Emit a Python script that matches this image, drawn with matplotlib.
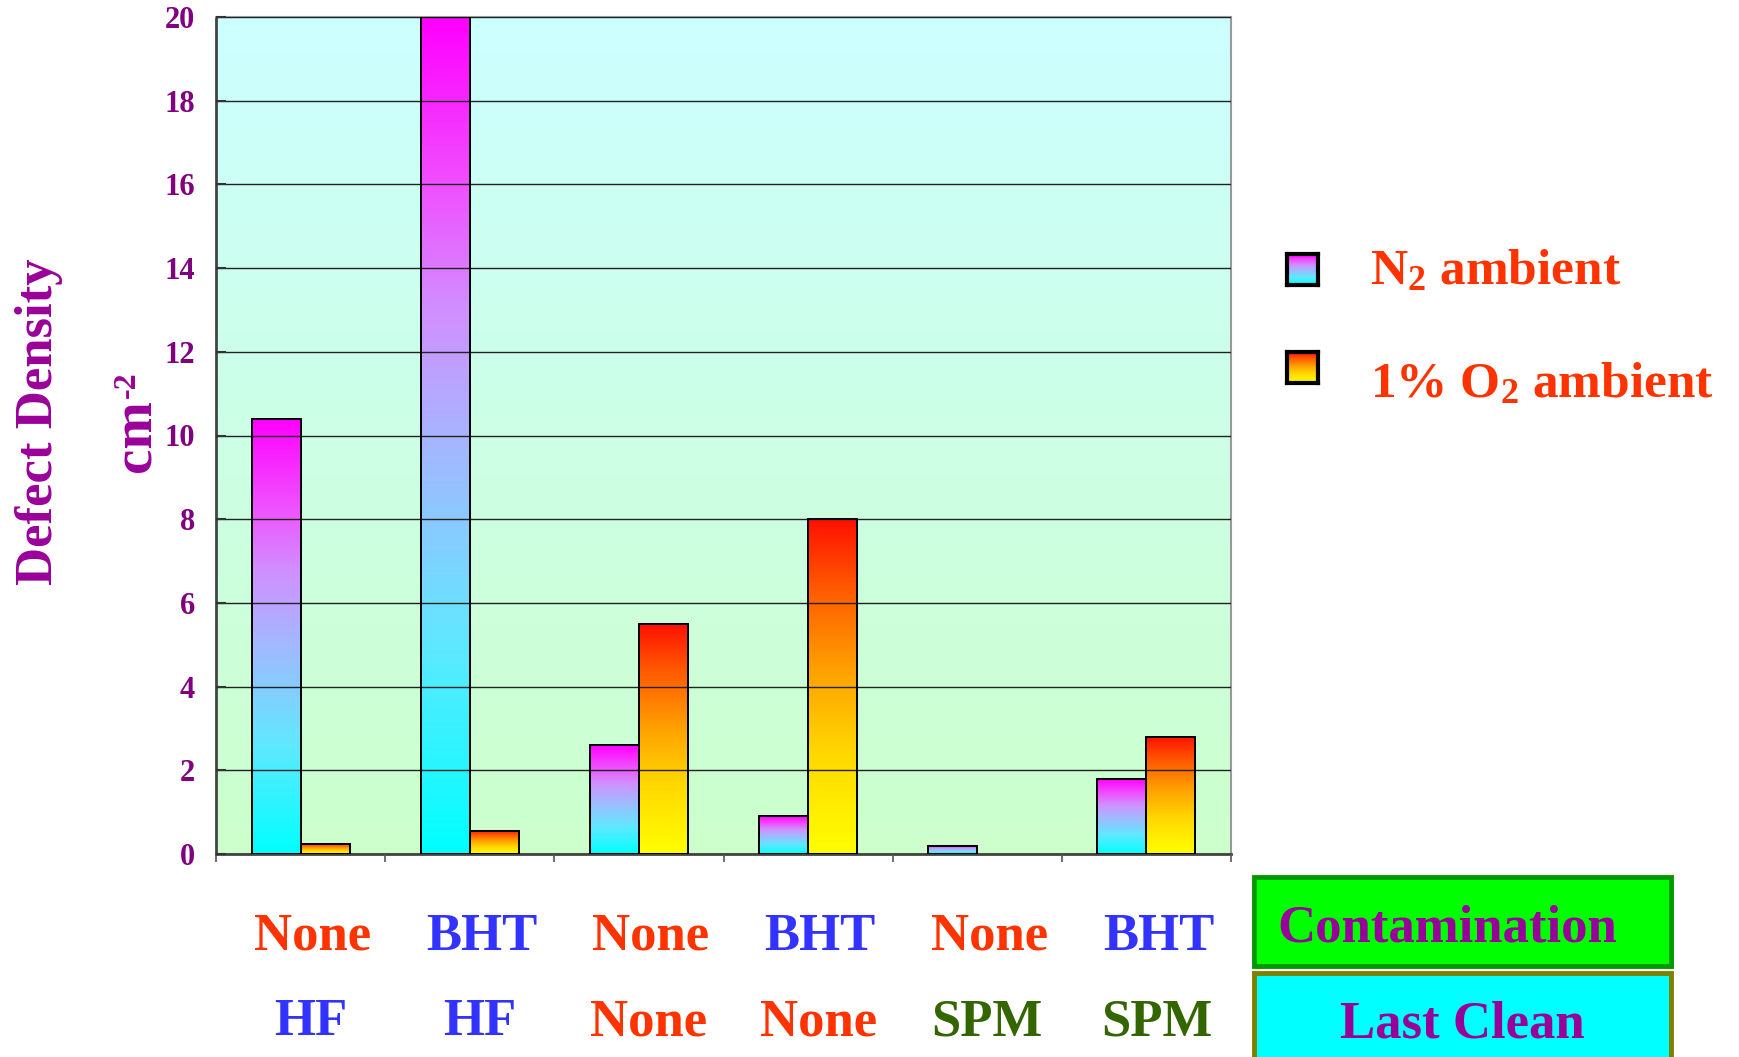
import numpy as np
import matplotlib
matplotlib.use("Agg")
import matplotlib.pyplot as plt
from matplotlib.colors import LinearSegmentedColormap
from matplotlib.patches import Rectangle

plt.rcParams['font.family'] = ['Liberation Serif', 'DejaVu Serif']
plt.rcParams['font.weight'] = 'bold'
plt.rcParams['mathtext.fontset'] = 'custom'
plt.rcParams['mathtext.rm'] = 'Liberation Serif:bold'
plt.rcParams['mathtext.it'] = 'Liberation Serif:bold'
plt.rcParams['mathtext.bf'] = 'Liberation Serif:bold'

# Data
contamination = ['None', 'BHT', 'None', 'BHT', 'None', 'BHT']
last_clean = ['HF', 'HF', 'None', 'None', 'SPM', 'SPM']
n2_ambient = [10.4, 20.0, 2.6, 0.9, 0.2, 1.8]
o2_ambient = [0.25, 0.55, 5.5, 8.0, 0.0, 2.8]
y_ticks = [0, 2, 4, 6, 8, 10, 12, 14, 16, 18, 20]

word_colors = {'None': '#FF3300', 'BHT': '#3333FF', 'HF': '#3333FF', 'SPM': '#336600'}
purple = '#990099'
tick_purple = '#800080'

n2_cmap = LinearSegmentedColormap.from_list(
    'n2', [(0, '#00FFFF'), (0.25, '#60E8FF'), (0.5, '#A8B4FF'),
           (0.65, '#D090FF'), (0.8, '#F050FF'), (1, '#FF00FF')])
o2_cmap = LinearSegmentedColormap.from_list(
    'o2', [(0, '#FFFF00'), (0.3, '#FFD800'), (0.55, '#FFA000'),
           (0.8, '#FF5800'), (1, '#FF1000')])
bg_cmap = LinearSegmentedColormap.from_list('bg', ['#CCFFCC', '#CCFFFF'])

W, H = 1740, 1057
fig = plt.figure(figsize=(W / 100, H / 100), dpi=100)
fig.patch.set_facecolor('white')

ax = fig.add_axes([216 / W, 1 - 854 / H, (1231 - 216) / W, (854 - 17) / H])

# Axes background: light green at the bottom to light cyan at the top
grad = np.linspace(0, 1, 256).reshape(-1, 1)
ax.imshow(grad, extent=[0, 1, 0, 1], transform=ax.transAxes, origin='lower',
          cmap=bg_cmap, aspect='auto', zorder=0, interpolation='bilinear')

x = np.arange(len(contamination))
width = 0.29
bars_n2 = ax.bar(x - width / 2, n2_ambient, width, facecolor='none',
                 edgecolor='black', linewidth=1.4, zorder=3)
bars_o2 = ax.bar(x + width / 2, o2_ambient, width, facecolor='none',
                 edgecolor='black', linewidth=1.4, zorder=3)

# Vertical gradient inside each bar
for bars, cmap in ((bars_n2, n2_cmap), (bars_o2, o2_cmap)):
    for rect in bars:
        h = rect.get_height()
        if h <= 0:
            rect.set_visible(False)
            continue
        x0 = rect.get_x()
        ax.imshow(grad, extent=[x0, x0 + rect.get_width(), 0, h], origin='lower',
                  cmap=cmap, aspect='auto', zorder=2, interpolation='bilinear')

ax.set_xlim(-0.5, len(contamination) - 0.5)
ax.set_ylim(0, 20)
ax.set_yticks(y_ticks)
ax.set_yticklabels([str(v) for v in y_ticks], color=tick_purple, fontsize=22,
                   fontweight='bold')
ax.yaxis.grid(True, color='#222222', linewidth=1.0, zorder=1)
ax.set_axisbelow(False)
for gl in ax.get_ygridlines():
    gl.set_zorder(1)

ax.tick_params(axis='y', direction='in', length=7, width=1.5, color='#333333', pad=15)
ax.set_xticks(np.arange(len(contamination) + 1) - 0.5)
ax.set_xticklabels([])
ax.tick_params(axis='x', direction='out', length=6, width=1.2, color='#555555')

for side in ('left', 'bottom'):
    ax.spines[side].set_color('#444444')
    ax.spines[side].set_linewidth(2)
for side in ('top', 'right'):
    ax.spines[side].set_color('#999999')
    ax.spines[side].set_linewidth(1.5)

# Axis titles
fig.text(39 / W, 1 - 422 / H, 'Defect Density', rotation=90, ha='center', va='center',
         color=purple, fontsize=38, fontweight='bold')
fig.text(137 / W, 1 - 436 / H, 'cm', rotation=90, ha='center', va='center',
         color=purple, fontsize=41, fontweight='bold')
fig.text(127 / W, 1 - 385 / H, '-2', rotation=90, ha='center', va='center',
         color=purple, fontsize=23, fontweight='bold')

# Category labels below the axis
for i, (c, l) in enumerate(zip(contamination, last_clean)):
    xd = ax.transData.transform((i, 0))[0] / W
    fig.text(xd + 12 / W, 1 - 950 / H, c, ha='center', va='baseline',
             color=word_colors[c], fontsize=38, fontweight='bold')
    fig.text(xd + 10 / W, 1 - 1035 / H, l, ha='center', va='baseline',
             color=word_colors[l], fontsize=38, fontweight='bold')

# Row headers
box1 = Rectangle((1254 / W, 1 - 966 / H), (1671 - 1254) / W, (966 - 877) / H,
                 transform=fig.transFigure, facecolor='#00FF00', edgecolor='#009900',
                 linewidth=3.5)
box2 = Rectangle((1254 / W, 1 - 1075 / H), (1671 - 1254) / W, (1075 - 973) / H,
                 transform=fig.transFigure, facecolor='#00FFFF', edgecolor='#808000',
                 linewidth=3.5, clip_on=False)
fig.add_artist(box1)
fig.add_artist(box2)
fig.text(1447 / W, 1 - 942 / H, 'Contamination', ha='center', va='baseline',
         color=purple, fontsize=38, fontweight='bold')
fig.text(1462 / W, 1 - 1038 / H, 'Last Clean', ha='center', va='baseline',
         color=purple, fontsize=38, fontweight='bold')

# Legend
legend_items = [(n2_cmap, 254, r'N$_2$ ambient', 284),
                (o2_cmap, 352, r'1% O$_2$ ambient', 397)]
for cmap, top, label, baseline in legend_items:
    lax = fig.add_axes([1287 / W, 1 - (top + 31) / H, 31 / W, 31 / H])
    lax.imshow(grad, extent=[0, 1, 0, 1], origin='lower', cmap=cmap, aspect='auto',
               interpolation='bilinear')
    lax.set_xticks([])
    lax.set_yticks([])
    for s in lax.spines.values():
        s.set_linewidth(3)
        s.set_color('black')
    fig.text(1370 / W, 1 - baseline / H, label, ha='left', va='baseline',
             color='#FF3300', fontsize=37, fontweight='bold')

fig.savefig('out.png', dpi=100, facecolor='white')
